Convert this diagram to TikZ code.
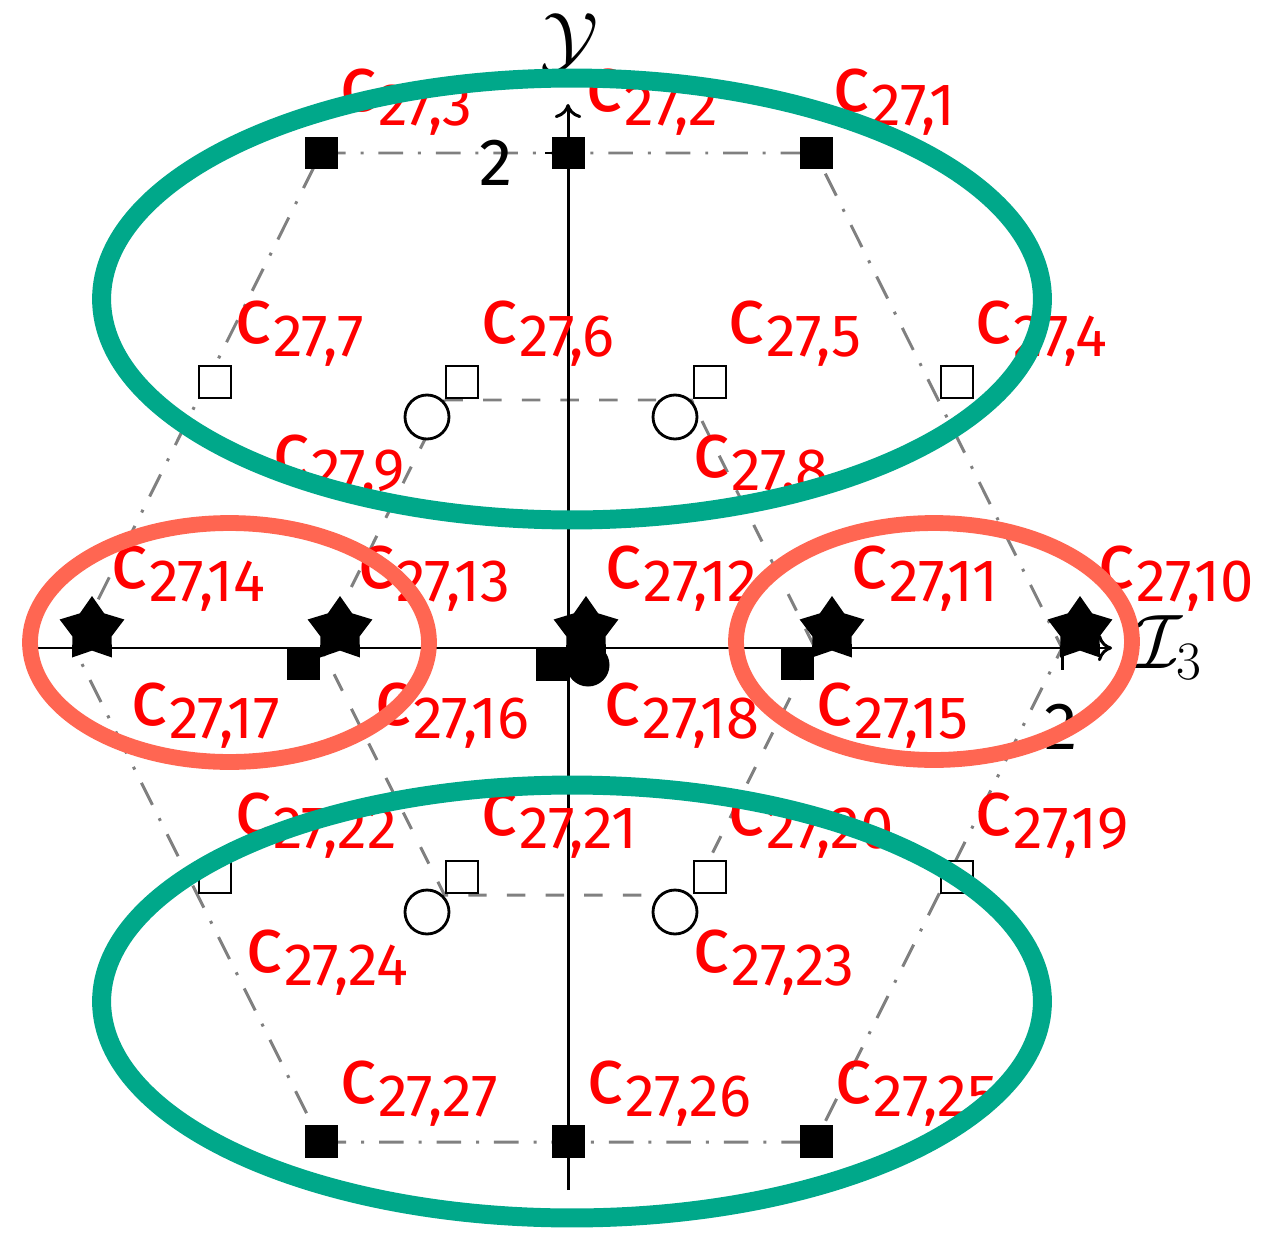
\RequirePackage{fix-cm}
\documentclass[tikz,border=0pt]{standalone}
\usepackage[no-math]{fontspec}
\setmainfont{Fira Sans}
\usepackage{graphicx}
\usetikzlibrary{shapes.geometric,arrows.meta}
\definecolor{grn}{RGB}{0,168,138}
\definecolor{rdl}{RGB}{255,102,82}
\definecolor{hexgray}{RGB}{128,128,128}
\newcommand\clab[1]{c\hspace{0.5pt}\raisebox{-7.5pt}{\fontsize{34}{34}\selectfont 27,#1}}
\begin{document}
\begin{tikzpicture}[x=0.02cm,y=-0.02cm,
  lab/.style={anchor=base west,inner sep=0pt,text=red,font=\fontsize{45}{54}\selectfont},
  fsq/.style={rectangle,fill=black,minimum size=0.66cm,inner sep=0pt},
  osq/.style={rectangle,draw=black,fill=white,line width=1.6pt,minimum size=0.64cm,inner sep=0pt},
  ocirc/.style={circle,draw=black,fill=white,line width=1.6pt,minimum size=0.88cm,inner sep=0pt},
  fcirc/.style={circle,fill=black,minimum size=0.86cm,inner sep=0pt},
  pstar/.style={star,star points=5,star point ratio=1.65,fill=black,minimum size=1.36cm,inner sep=0pt},
  dashdotline/.style={draw=hexgray,line width=1.7pt,dash pattern=on 14pt off 8.5pt on 1.7pt off 8.5pt},
  dashline/.style={draw=hexgray,line width=1.7pt,dash pattern=on 10.5pt off 11.5pt},
  axisline/.style={draw=black,line width=1.7pt,-{To[length=8pt,width=15pt]}},
  tickline/.style={draw=black,line width=1.7pt},
  ticklab/.style={inner sep=0pt,font=\fontsize{38}{44}\selectfont},
  axlab/.style={inner sep=0pt,font=\fontsize{44}{52}\selectfont},
  greenell/.style={draw=grn,line width=10.8pt},
  redell/.style={draw=rdl,line width=9pt}
]
\useasboundingbox (0,0) rectangle (1261,1237);

% outer hexagon (dash-dot)
\coordinate (A1) at (321,153);
\coordinate (A2) at (815,153);
\coordinate (A3) at (1062,648);
\coordinate (A4) at (815,1142);
\coordinate (A5) at (321,1142);
\coordinate (A6) at (74,648);
\draw[dashdotline] (A1) -- (A2) -- (A3) -- (A4) -- (A5) -- (A6) -- cycle;

% inner hexagon (dashed)
\coordinate (B1) at (444.5,400);
\coordinate (B2) at (691.5,400);
\coordinate (B3) at (815,648);
\coordinate (B4) at (691.5,895);
\coordinate (B5) at (444.5,895);
\coordinate (B6) at (321,648);
\draw[dashline] (B1) -- (B2) -- (B3) -- (B4) -- (B5) -- (B6) -- cycle;

% axes
\coordinate (xs) at (27,648);
\coordinate (xe) at (1112,648);
\coordinate (ys) at (568,1190);
\coordinate (ye) at (568,104);
\draw[axisline] (xs) -- (xe);
\draw[axisline] (ys) -- (ye);
\coordinate (tx1) at (1062,648);
\coordinate (tx2) at (1062,670);
\draw[tickline] (tx1) -- (tx2);
\coordinate (ty1) at (568,153);
\coordinate (ty2) at (545,153);
\draw[tickline] (ty1) -- (ty2);

\node[axlab,anchor=north] (Ylab) at (570,13) {$\mathcal{Y}$};
\node[axlab,anchor=base west] (Ilab) at (1134,668) {$\mathcal{I}_3$};
\node[ticklab] (t2y) at (496,163) {2};
\node[ticklab] (t2x) at (1061,727) {2};

% markers
\node[fsq] (fs1) at (321,153) {};
\node[fsq] (fs2) at (568,153) {};
\node[fsq] (fs3) at (816,153) {};
\node[fsq] (fs4) at (303,663) {};
\node[fsq] (fs5) at (552,664) {};
\node[fsq] (fs6) at (797,663) {};
\node[fsq] (fs7) at (321,1141) {};
\node[fsq] (fs8) at (568,1141) {};
\node[fsq] (fs9) at (816,1141) {};

\node[osq] (os1) at (215,382) {};
\node[osq] (os2) at (462,382) {};
\node[osq] (os3) at (710,382) {};
\node[osq] (os4) at (957,382) {};
\node[osq] (os5) at (215,877) {};
\node[osq] (os6) at (462,877) {};
\node[osq] (os7) at (710,877) {};
\node[osq] (os8) at (957,877) {};

\node[ocirc] (oc1) at (427,417) {};
\node[ocirc] (oc2) at (675,417) {};
\node[ocirc] (oc3) at (427,912) {};
\node[ocirc] (oc4) at (675,912) {};

\node[fcirc] (fc1) at (588,665) {};
\node[pstar] (st1) at (92,630) {};
\node[pstar] (st2) at (340,630) {};
\node[pstar] (st3) at (586,630) {};
\node[pstar] (st4) at (832,630) {};
\node[pstar] (st5) at (1080,630) {};

% labels
\node[lab] (l1) at (832,112) {\clab{1}};
\node[lab] (l2) at (585,112) {\clab{2}};
\node[lab] (l3) at (339,112) {\clab{3}};
\node[lab] (l4) at (974,343) {\clab{4}};
\node[lab] (l5) at (727,343) {\clab{5}};
\node[lab] (l6) at (480,343) {\clab{6}};
\node[lab] (l7) at (234,343) {\clab{7}};
\node[lab] (l8) at (692,477) {\clab{8}};
\node[lab] (l9) at (272,477) {\clab{9}};
\node[lab] (l10) at (1097,588) {\clab{10}};
\node[lab] (l11) at (850,588) {\clab{11}};
\node[lab] (l12) at (604,588) {\clab{12}};
\node[lab] (l13) at (357,588) {\clab{13}};
\node[lab] (l14) at (110,588) {\clab{14}};
\node[lab] (l15) at (815,725) {\clab{15}};
\node[lab] (l16) at (374,725) {\clab{16}};
\node[lab] (l17) at (130,725) {\clab{17}};
\node[lab] (l18) at (603,725) {\clab{18}};
\node[lab] (l19) at (974,835) {\clab{19}};
\node[lab] (l20) at (727,835) {\clab{20}};
\node[lab] (l21) at (480,835) {\clab{21}};
\node[lab] (l22) at (234,835) {\clab{22}};
\node[lab] (l23) at (692,972) {\clab{23}};
\node[lab] (l24) at (245,972) {\clab{24}};
\node[lab] (l25) at (834,1103) {\clab{25}};
\node[lab] (l26) at (586,1103) {\clab{26}};
\node[lab] (l27) at (339,1103) {\clab{27}};

% groupings
\draw[greenell] (572,299) ellipse [x radius=9.41cm, y radius=4.42cm];
\draw[greenell] (572,1001.5) ellipse [x radius=9.41cm, y radius=4.33cm];
\draw[redell] (229.5,642.5) ellipse [x radius=3.99cm, y radius=2.39cm];
\draw[redell] (934,641.5) ellipse [x radius=3.96cm, y radius=2.37cm];
\end{tikzpicture}
\end{document}
